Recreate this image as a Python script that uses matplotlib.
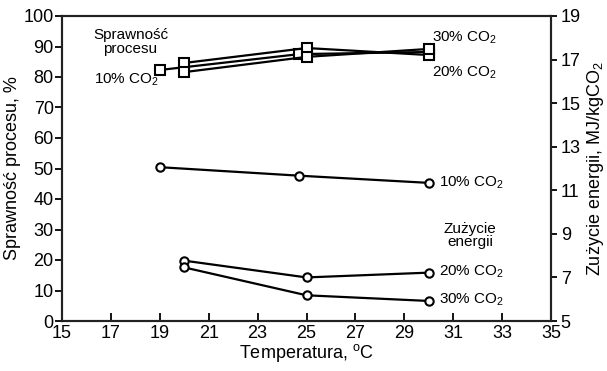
import numpy as np
import matplotlib
matplotlib.use('Agg')
import matplotlib.pyplot as plt

plt.rcParams['font.family'] = ['Liberation Sans', 'DejaVu Sans']
plt.rcParams['mathtext.fontset'] = 'custom'
plt.rcParams['mathtext.rm'] = 'Liberation Sans'
plt.rcParams['mathtext.it'] = 'Liberation Sans'

# sprawnosc procesu, % (lewa os)
t_eff_10 = [19, 24.7, 30]
eff_10 = [82.3, 87.5, 88.2]
t_eff_20 = [20, 25, 30]
eff_20 = [84.6, 89.5, 87.2]
t_eff_30 = [20, 25, 30]
eff_30 = [81.6, 86.6, 89.2]

# zuzycie energii, MJ/kgCO2 (prawa os)
t_en_10 = [19, 24.7, 30]
en_10 = [12.06, 11.67, 11.34]
t_en_20 = [20, 25, 30]
en_20 = [7.77, 7.0, 7.22]
t_en_30 = [20, 25, 30]
en_30 = [7.46, 6.18, 5.92]

xticks = list(range(15, 36, 2))
yticks_left = list(range(0, 101, 10))
yticks_right = list(range(5, 20, 2))

fig = plt.figure(figsize=(6.07, 3.71), dpi=100)
ax = fig.add_axes([62 / 607, 1 - 321 / 371, (551 - 62) / 607, (321 - 16) / 371])
ax2 = ax.twinx()

sq = dict(color='black', lw=1.6, marker='s', ms=6.5, mfc='white', mec='black', mew=1.5)
ci = dict(color='black', lw=1.6, marker='o', ms=6, mfc='white', mec='black', mew=1.5)

ax.plot(t_eff_10, eff_10, **sq)
ax.plot(t_eff_20, eff_20, **sq)
ax.plot(t_eff_30, eff_30, **sq)

ax2.plot(t_en_10, en_10, **ci)
ax2.plot(t_en_20, en_20, **ci)
ax2.plot(t_en_30, en_30, **ci)

ax.set_xlim(15, 35)
ax.set_ylim(0, 100)
ax2.set_ylim(5, 19)
ax.set_xticks(xticks)
ax.set_yticks(yticks_left)
ax2.set_yticks(yticks_right)

for s in list(ax.spines.values()) + list(ax2.spines.values()):
    s.set_linewidth(1.5)
    s.set_color('#222222')

ax.tick_params(axis='x', direction='in', length=6, width=1.3, labelsize=13, pad=3)
ax.tick_params(axis='y', direction='out', length=5, width=1.3, labelsize=13, pad=1)
ax2.tick_params(axis='y', direction='out', length=4, width=1.3, labelsize=13, pad=3)

ax.set_xlabel('Temperatura, $^{\\rm o}$C', fontsize=13, labelpad=0)
ax.set_ylabel('Sprawność procesu, %', fontsize=13, labelpad=2)
ax2.set_ylabel('Zużycie energii, MJ/kgCO$_2$', fontsize=13, labelpad=3)

fs = 11
ax.text(17.8, 91.5, 'Sprawność\nprocesu', fontsize=fs, ha='center', va='center', linespacing=0.95)
ax.text(16.3, 79, '10% CO$_2$', fontsize=fs, ha='left', va='center')
ax.text(30.15, 92.8, '30% CO$_2$', fontsize=fs, ha='left', va='center')
ax.text(30.15, 81.3, '20% CO$_2$', fontsize=fs, ha='left', va='center')
ax.text(30.4, 45.2, '10% CO$_2$', fontsize=fs, ha='left', va='center')
ax.text(31.7, 28, 'Zużycie\nenergii', fontsize=fs, ha='center', va='center', linespacing=0.95)
ax.text(30.4, 16.1, '20% CO$_2$', fontsize=fs, ha='left', va='center')
ax.text(30.4, 6.9, '30% CO$_2$', fontsize=fs, ha='left', va='center')

plt.savefig('out.png', dpi=100)
